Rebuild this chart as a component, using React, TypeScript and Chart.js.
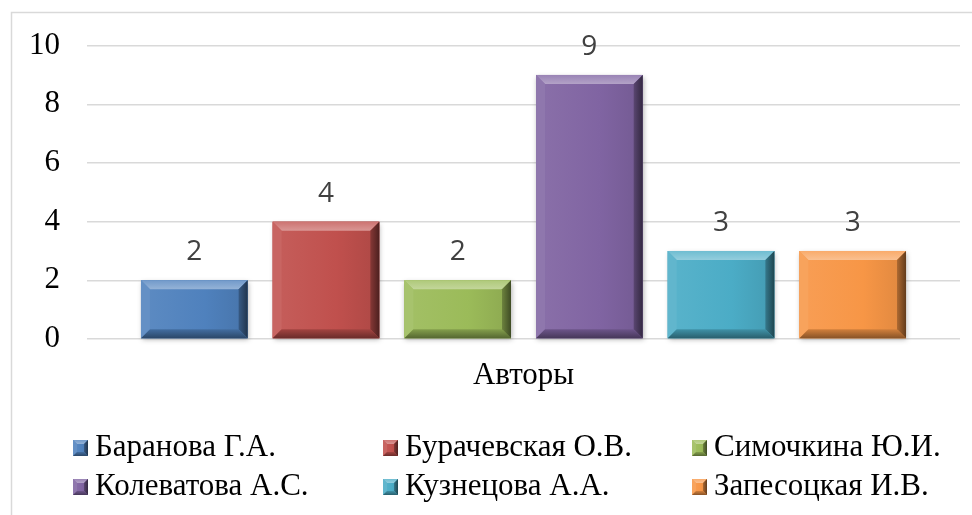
import React, { useEffect, useRef } from "react";
import { Chart, registerables } from "chart.js";

Chart.register(...registerables);

const categories = ["Авторы"];
const authors = [
  "Баранова Г.А.",
  "Бурачевская О.В.",
  "Симочкина Ю.И.",
  "Колеватова А.С.",
  "Кузнецова А.А.",
  "Запесоцкая И.В.",
];
const counts = [2, 4, 2, 9, 3, 3];
const colors = ["#4f81bd", "#c0504d", "#9bbb59", "#8064a2", "#4bacc6", "#f79646"];
const yTicks = [0, 2, 4, 6, 8, 10];

const SERIF = "'Liberation Serif', serif";
const SANS = "'Open Sans', sans-serif";

function shade(hex: string, f: number): string {
  const n = parseInt(hex.slice(1), 16);
  let r = (n >> 16) & 255, g = (n >> 8) & 255, b = n & 255;
  if (f >= 0) {
    r = r + (255 - r) * f; g = g + (255 - g) * f; b = b + (255 - b) * f;
  } else {
    r = r * (1 + f); g = g * (1 + f); b = b * (1 + f);
  }
  return `rgb(${Math.round(r)},${Math.round(g)},${Math.round(b)})`;
}

function bevelRect(ctx: CanvasRenderingContext2D, l: number, t: number, r: number, B: number, color: string, bv: number, shadow: boolean) {
  ctx.save();
  if (shadow) {
    ctx.shadowColor = "rgba(0,0,0,0.3)";
    ctx.shadowBlur = 5;
    ctx.shadowOffsetY = 2;
    ctx.shadowOffsetX = 1;
  }
  const g = ctx.createLinearGradient(l, 0, r, 0);
  g.addColorStop(0, shade(color, 0.08));
  g.addColorStop(0.6, color);
  g.addColorStop(1, shade(color, -0.1));
  ctx.fillStyle = g;
  ctx.fillRect(l, t, r - l, B - t);
  ctx.restore();
  const poly = (pts: number[][], fill: string | CanvasGradient) => {
    ctx.beginPath();
    ctx.moveTo(pts[0][0], pts[0][1]);
    for (let i = 1; i < pts.length; i++) ctx.lineTo(pts[i][0], pts[i][1]);
    ctx.closePath();
    ctx.fillStyle = fill;
    ctx.fill();
  };
  const b = Math.min(bv, (r - l) / 2, (B - t) / 2);
  ctx.save();
  const tg = ctx.createLinearGradient(0, t, 0, t + b);
  tg.addColorStop(0, shade(color, 0.2));
  tg.addColorStop(1, shade(color, 0.4));
  poly([[l, t], [r, t], [r - b, t + b], [l + b, t + b]], tg);
  poly([[l, t], [l + b, t + b], [l + b, B - b], [l, B]], shade(color, 0.12));
  const rg = ctx.createLinearGradient(r - b, 0, r, 0);
  rg.addColorStop(0, shade(color, -0.3));
  rg.addColorStop(1, shade(color, -0.6));
  poly([[r, t], [r - b, t + b], [r - b, B - b], [r, B]], rg);
  const bg = ctx.createLinearGradient(0, B - b, 0, B);
  bg.addColorStop(0, shade(color, -0.15));
  bg.addColorStop(1, shade(color, -0.45));
  poly([[l, B], [l + b, B - b], [r - b, B - b], [r, B]], bg);
  ctx.restore();
}

const customPlugin = {
  id: "custom",
  beforeDraw(chart: any) {
    const ctx = chart.ctx as CanvasRenderingContext2D;
    ctx.save();
    ctx.strokeStyle = "#d9d9d9";
    ctx.lineWidth = 1.5;
    ctx.beginPath();
    ctx.moveTo(11.5, 600);
    ctx.lineTo(11.5, 12.5);
    ctx.lineTo(1000, 12.5);
    ctx.stroke();
    ctx.restore();
  },
  afterDatasetsDraw(chart: any) {
    const ctx = chart.ctx as CanvasRenderingContext2D;
    chart.data.datasets.forEach((ds: any, i: number) => {
      const meta = chart.getDatasetMeta(i);
      meta.data.forEach((el: any, j: number) => {
        const l = el.x - el.width / 2;
        const r = el.x + el.width / 2;
        bevelRect(ctx, l, el.y, r, el.base, ds.backgroundColor, 9, true);
        ctx.save();
        ctx.fillStyle = "#404040";
        ctx.font = "28px " + SANS;
        ctx.textAlign = "center";
        ctx.textBaseline = "alphabetic";
        ctx.fillText(String(ds.data[j]), el.x, el.y - 20);
        ctx.restore();
      });
    });
  },
  afterDraw(chart: any) {
    const ctx = chart.ctx as CanvasRenderingContext2D;
    const colX = [73, 383, 692];
    const rowY = [448, 487];
    chart.data.datasets.forEach((ds: any, i: number) => {
      const cx = colX[i % 3];
      const cy = rowY[Math.floor(i / 3)];
      bevelRect(ctx, cx, cy - 8, cx + 15, cy + 8, ds.backgroundColor, 4, false);
      ctx.save();
      ctx.fillStyle = "#000";
      ctx.font = "31px " + SERIF;
      ctx.textAlign = "left";
      ctx.textBaseline = "middle";
      ctx.fillText(ds.label, cx + 22, cy);
      ctx.restore();
    });
  },
};

export default function App() {
  const ref = useRef<HTMLCanvasElement>(null);
  useEffect(() => {
    if (!ref.current) return;
    const chart = new Chart(ref.current, {
      type: "bar",
      data: {
        labels: categories,
        datasets: authors.map((a, i) => ({
          label: a,
          data: [counts[i]],
          backgroundColor: colors[i],
          borderWidth: 0,
          categoryPercentage: 0.905,
          barPercentage: 0.81,
        })),
      },
      options: {
        animation: false,
        responsive: false,
        devicePixelRatio: 1,
        layout: { padding: { left: 2, top: 43, right: 12, bottom: 106 } },
        plugins: { legend: { display: false }, tooltip: { enabled: false } },
        scales: {
          x: {
            grid: { display: false, drawTicks: false },
            border: { display: false },
            ticks: {
              color: "#000",
              font: { family: SERIF, size: 31 },
              padding: 18,
            },
            afterFit: (s: any) => { s.height = 70; },
          },
          y: {
            min: 0,
            max: 10,
            afterBuildTicks: (s: any) => { s.ticks = yTicks.map((v) => ({ value: v })); },
            grid: { color: "#d9d9d9", lineWidth: 1.5, drawTicks: false },
            border: { display: false },
            ticks: {
              color: "#000",
              font: { family: SERIF, size: 31 },
              padding: 27,
            },
            afterFit: (s: any) => { s.width = 85; },
          },
        },
      },
      plugins: [customPlugin],
    });
    return () => chart.destroy();
  }, []);
  return (
    <div style={{ position: "fixed", left: 0, top: 0, width: 972, height: 515, background: "#fff" }}>
      <canvas ref={ref} width={972} height={515} />
    </div>
  );
}
